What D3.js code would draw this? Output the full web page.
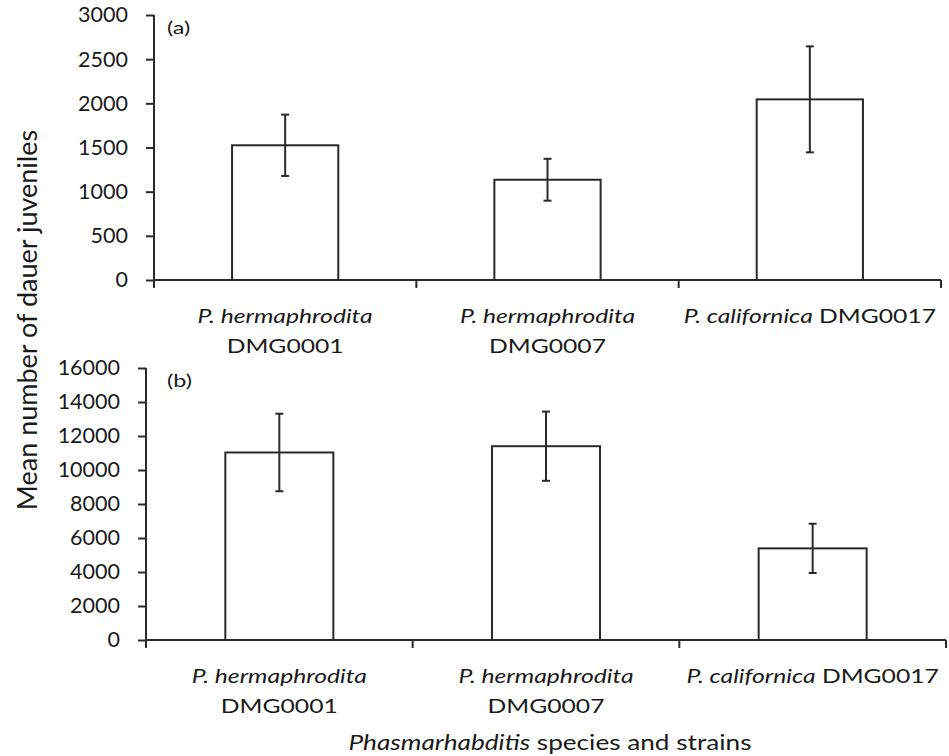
<!DOCTYPE html>
<html>
<head>
<meta charset="utf-8">
<style>
  body { margin: 0; background: #fff; }
  svg text { font-family: Lato, "Open Sans", sans-serif; fill: #1a1a1a; }
</style>
</head>
<body>
<script src="https://cdn.jsdelivr.net/npm/d3@7"></script>
<div id="chart"></div>
<script>
// categories
var species = ["P. hermaphrodita", "P. hermaphrodita", "P. californica"];
var strains = ["DMG0001", "DMG0007", "DMG0017"];

// panel (a) values: mean and error
var meansA = [1525, 1135, 2045];
var errA = [347, 237, 600];
var ticksA = [0, 500, 1000, 1500, 2000, 2500, 3000];

// panel (b) values
var meansB = [11030, 11400, 5390];
var errB = [2280, 2035, 1450];
var ticksB = [0, 2000, 4000, 6000, 8000, 10000, 12000, 14000, 16000];

var width = 949, height = 756;
var ink = "#2a2a2a";
var sx = 1.3; // labels in the original are a bit wide

var svg = d3.select("#chart").append("svg")
  .attr("width", width)
  .attr("height", height);

function drawPanel(opt) {
  var g = svg.append("g");

  var x = d3.scaleBand()
    .domain(strains)
    .range([opt.left, opt.right])
    .padding(0);

  var y = d3.scaleLinear()
    .domain([0, d3.max(opt.ticks)])
    .range([opt.bottom, opt.top]);

  var barW = x.bandwidth() * 0.405;

  // y axis
  var yAxis = g.append("g")
    .attr("transform", "translate(" + opt.left + ",0)")
    .call(d3.axisLeft(y).tickValues(opt.ticks).tickFormat(d3.format("d"))
      .tickSize(8).tickSizeOuter(0).tickPadding(18));
  yAxis.select(".domain").remove();
  yAxis.selectAll("line").attr("stroke", ink).attr("stroke-width", 2);
  yAxis.selectAll("text").attr("font-size", 21.5).attr("fill", "#1a1a1a")
    .style("font-family", "Lato, sans-serif");
  g.append("line")
    .attr("x1", opt.left).attr("x2", opt.left)
    .attr("y1", y(d3.max(opt.ticks))).attr("y2", opt.bottom + 8)
    .attr("stroke", ink).attr("stroke-width", 2);

  // x axis line + category boundary ticks
  g.append("line")
    .attr("x1", opt.left).attr("x2", opt.right)
    .attr("y1", opt.bottom).attr("y2", opt.bottom)
    .attr("stroke", ink).attr("stroke-width", 2);
  var bounds = strains.map(function (d) { return x(d); }).concat([x.range()[1]]);
  g.selectAll(".xtick").data(bounds.slice(1)).enter()
    .append("line")
    .attr("x1", function (d) { return d; }).attr("x2", function (d) { return d; })
    .attr("y1", opt.bottom).attr("y2", opt.bottom + 8)
    .attr("stroke", ink).attr("stroke-width", 2);

  // bars
  g.selectAll(".bar").data(opt.means).enter()
    .append("rect")
    .attr("x", function (d, i) { return x(strains[i]) + x.bandwidth() / 2 - barW / 2; })
    .attr("y", function (d) { return y(d); })
    .attr("width", barW)
    .attr("height", function (d) { return opt.bottom - y(d); })
    .attr("fill", "#fff")
    .attr("stroke", ink)
    .attr("stroke-width", 2);

  // error bars
  var eb = g.selectAll(".err").data(opt.means).enter().append("g");
  eb.append("line")
    .attr("x1", function (d, i) { return x(strains[i]) + x.bandwidth() / 2; })
    .attr("x2", function (d, i) { return x(strains[i]) + x.bandwidth() / 2; })
    .attr("y1", function (d, i) { return y(d + opt.err[i]); })
    .attr("y2", function (d, i) { return y(d - opt.err[i]); })
    .attr("stroke", ink).attr("stroke-width", 2);
  [1, -1].forEach(function (s) {
    eb.append("line")
      .attr("x1", function (d, i) { return x(strains[i]) + x.bandwidth() / 2 - 4; })
      .attr("x2", function (d, i) { return x(strains[i]) + x.bandwidth() / 2 + 4; })
      .attr("y1", function (d, i) { return y(d + s * opt.err[i]); })
      .attr("y2", function (d, i) { return y(d + s * opt.err[i]); })
      .attr("stroke", ink).attr("stroke-width", 2);
  });

  // category labels (wrap onto two lines when too wide for the band)
  strains.forEach(function (s, i) {
    var cx = x(s) + x.bandwidth() / 2;
    var t = g.append("text")
      .attr("transform", "translate(" + cx + "," + (opt.bottom + 43) + ") scale(" + sx + ",1)")
      .attr("text-anchor", "middle")
      .attr("font-size", 19);
    t.append("tspan").attr("font-style", "italic").text(species[i]);
    t.append("tspan").text(" " + s);
    if (t.node().getComputedTextLength() * sx > x.step()) {
      t.selectAll("tspan").remove();
      t.append("tspan").attr("font-style", "italic").attr("x", 0).text(species[i]);
      t.append("tspan").attr("x", 0).attr("dy", 30).text(s);
    }
  });

  // panel letter
  g.append("text")
    .attr("transform", "translate(167," + (opt.top + 19) + ") scale(" + sx + ",1)")
    .attr("font-size", 18)
    .text(opt.letter);
}

drawPanel({ letter: "(a)", means: meansA, err: errA, ticks: ticksA,
  left: 154, right: 941, top: 15, bottom: 280 });
drawPanel({ letter: "(b)", means: meansB, err: errB, ticks: ticksB,
  left: 146, right: 946, top: 368, bottom: 640 });

// y axis title
svg.append("text")
  .attr("transform", "translate(37,320) rotate(-90)")
  .attr("text-anchor", "middle")
  .attr("font-size", 27)
  .text("Mean number of dauer juveniles");

// x axis title
var xt = svg.append("text")
  .attr("transform", "translate(550,750) scale(1.19,1)")
  .attr("text-anchor", "middle")
  .attr("font-size", 22);
xt.append("tspan").attr("font-style", "italic").text("Phasmarhabditis");
xt.append("tspan").text(" species and strains");
</script>
</body>
</html>
